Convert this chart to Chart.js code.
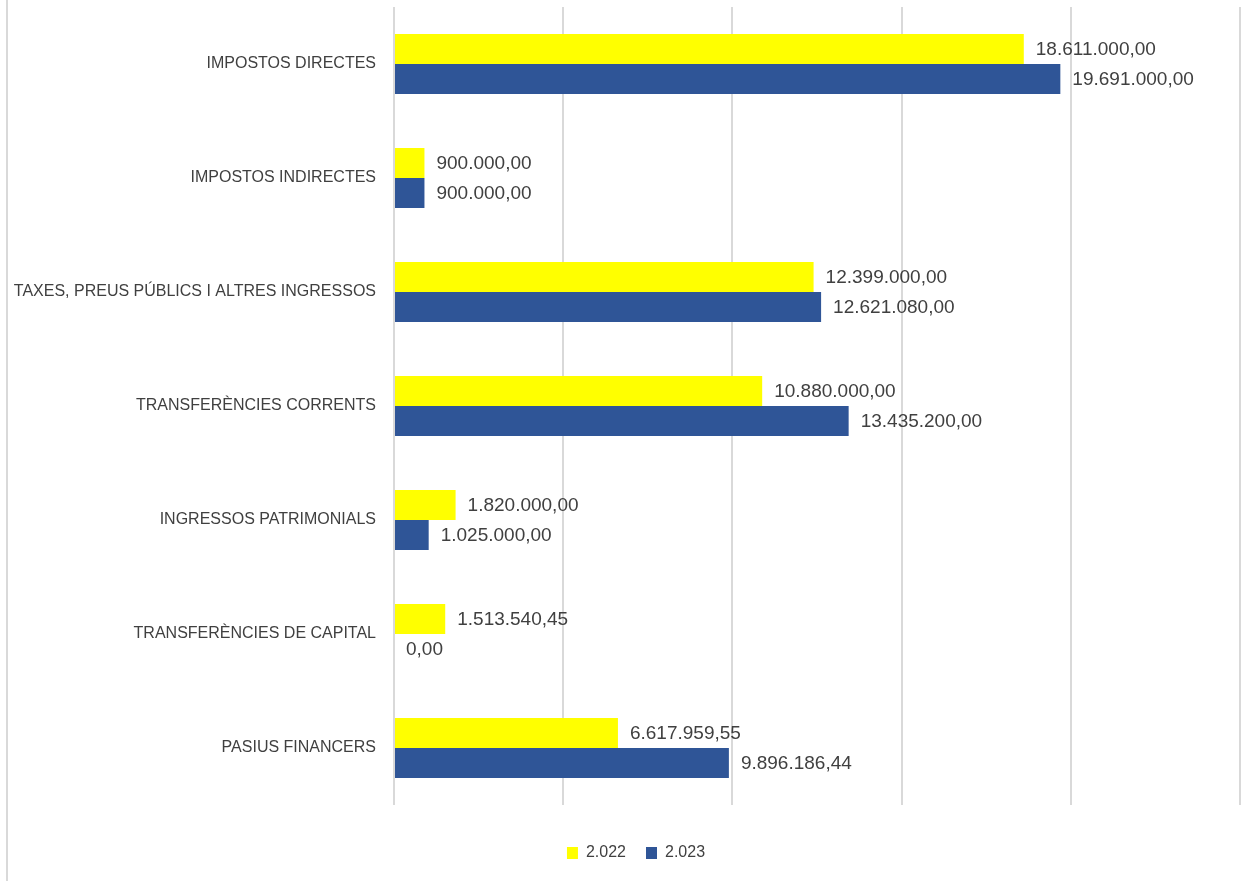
<!DOCTYPE html>
<html>
<head>
<meta charset="utf-8">
<script src="https://cdn.jsdelivr.net/npm/chart.js@4.4.0/dist/chart.umd.min.js"></script>
<style>
html,body{margin:0;padding:0;background:#fff;}
#wrap{width:1260px;height:881px;position:relative;}
</style>
</head>
<body>
<div id="wrap"><canvas id="c" width="1260" height="881"></canvas></div>
<script>
const categories = [
  "IMPOSTOS DIRECTES",
  "IMPOSTOS INDIRECTES",
  "TAXES, PREUS PÚBLICS I ALTRES INGRESSOS",
  "TRANSFERÈNCIES CORRENTS",
  "INGRESSOS PATRIMONIALS",
  "TRANSFERÈNCIES DE CAPITAL",
  "PASIUS FINANCERS"
];
const seriesNames = ["2.022", "2.023"];
const values2022 = [18611000, 900000, 12399000, 10880000, 1820000, 1513540.45, 6617959.55];
const values2023 = [19691000, 900000, 12621080, 13435200, 1025000, 0, 9896186.44];
const xTicks = [0, 5000000, 10000000, 15000000, 20000000, 25000000];

function fmt(v){
  const neg = v < 0; v = Math.abs(v);
  let [i, d] = v.toFixed(2).split('.');
  i = i.replace(/\B(?=(\d{3})+(?!\d))/g, '.');
  return (neg ? '-' : '') + i + ',' + d;
}

const labelPlugin = {
  id: 'valueLabels',
  afterDatasetsDraw(chart){
    const ctx = chart.ctx;
    ctx.save();
    ctx.font = '19px "Liberation Sans"';
    ctx.fillStyle = '#404040';
    ctx.textAlign = 'left';
    ctx.textBaseline = 'middle';
    chart.data.datasets.forEach((ds, di) => {
      const meta = chart.getDatasetMeta(di);
      meta.data.forEach((bar, i) => {
        ctx.fillText(fmt(ds.data[i]), bar.x + 12, bar.y + 1);
      });
    });
    ctx.restore();
  }
};

const borderPlugin = {
  id: 'leftBorder',
  afterLayout(chart){
    if (chart.legend) { chart.legend.left += 16; chart.legend.right += 16; }
  },
  beforeDraw(chart){
    const ctx = chart.ctx;
    ctx.save();
    ctx.fillStyle = '#ffffff';
    ctx.fillRect(0, 0, chart.width, chart.height);
    ctx.strokeStyle = '#d9d9d9';
    ctx.lineWidth = 2;
    ctx.beginPath();
    ctx.moveTo(7, 0);
    ctx.lineTo(7, chart.height);
    ctx.stroke();
    ctx.restore();
  }
};

new Chart(document.getElementById('c'), {
  type: 'bar',
  data: {
    labels: categories,
    datasets: [
      { label: seriesNames[0], data: values2022, backgroundColor: '#FFFF00', categoryPercentage: 0.526, barPercentage: 1.0 },
      { label: seriesNames[1], data: values2023, backgroundColor: '#2F5597', categoryPercentage: 0.526, barPercentage: 1.0 }
    ]
  },
  options: {
    indexAxis: 'y',
    responsive: false,
    animation: false,
    layout: { padding: { top: 7, right: 20, bottom: 10, left: 0 } },
    scales: {
      x: {
        min: xTicks[0], max: xTicks[xTicks.length - 1],
        afterBuildTicks(scale){ scale.ticks = xTicks.map(v => ({ value: v })); },
        afterFit(scale){ scale.height = 20; scale.paddingLeft = 0; scale.paddingRight = 0; },
        ticks: { display: false },
        grid: { color: '#d9d9d9', lineWidth: 2, drawTicks: false },
        border: { display: false }
      },
      y: {
        afterFit(scale){ scale.width = 394; scale.paddingTop = 0; scale.paddingBottom = 0; },
        ticks: { padding: 18, color: '#404040', font: { family: '"Liberation Sans Narrow", "Liberation Sans"', size: 16 } },
        grid: { display: false, drawTicks: false },
        border: { display: false }
      }
    },
    plugins: {
      legend: {
        position: 'bottom',
        labels: {
          boxWidth: 11, boxHeight: 12, padding: 20,
          color: '#404040',
          font: { family: '"Liberation Sans"', size: 16 }
        }
      },
      tooltip: { enabled: false }
    }
  },
  plugins: [borderPlugin, labelPlugin]
});
</script>
</body>
</html>
